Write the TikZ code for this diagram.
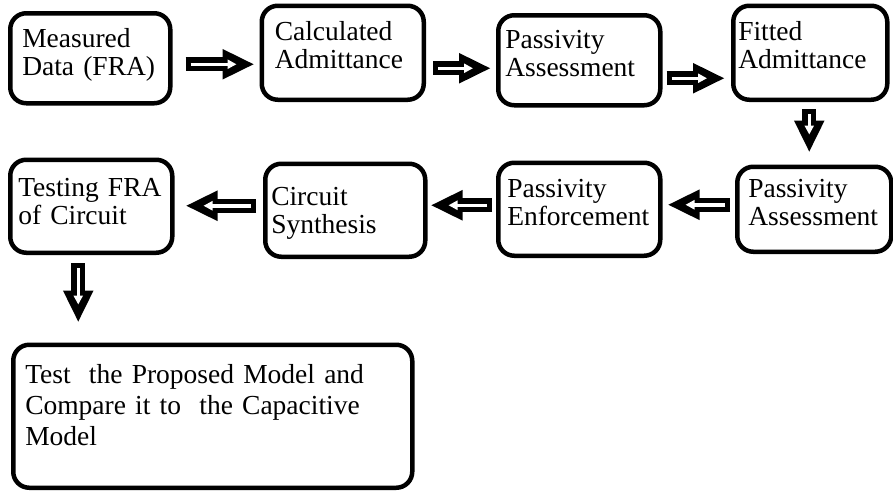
\documentclass[tikz,border=0pt]{standalone}
\usepackage{fontspec}
\setmainfont{Liberation Serif}
\usetikzlibrary{arrows.meta, positioning, calc}

\begin{document}
\begin{tikzpicture}[
    x=1pt, y=-1pt,
    stage/.style={rectangle, rounded corners=16pt, draw=black, line width=4.5pt, minimum width=160pt, minimum height=90pt, inner xsep=8pt, inner ysep=4pt, align=left, text width=144pt, text depth=40pt, font=\fontsize{27.5}{28}\selectfont},
    flow/.style={line width=14pt, -{Triangle[length=32pt,width=28pt]}, postaction={draw=white, line width=3.5pt, -{Triangle[length=9pt,width=9pt]}, shorten <=5pt, shorten >=18pt}}
]

\path[use as bounding box, fill=white] (0,0) rectangle (893,491);

% Top row
\node[stage, inner xsep=12pt, text width=136pt, anchor=north west] (meas) at (8,11) {Measured\\Data (FRA)};
\node[stage, minimum width=162pt, minimum height=94pt, inner xsep=13pt, text width=136pt, text depth=44pt, right=87pt of meas, yshift=5.5pt] (calc) {Calculated\\Admittance};
\node[stage, minimum width=162pt, inner xsep=7pt, text width=148pt, text depth=42pt, right=70pt of calc, yshift=-7.5pt] (passA) {Passivity\\Assessment};
\node[stage, minimum width=154pt, minimum height=94pt, inner xsep=5pt, text width=144pt, text depth=44pt, right=68.5pt of passA, yshift=7.5pt] (fitted) {Fitted\\Admittance};

% Second row
\node[stage, minimum width=154pt, minimum height=85pt, inner xsep=11pt, text width=132pt, text depth=42pt, below=62.5pt of fitted, xshift=4pt] (passB) {Passivity\\Assessment};
\node[stage, minimum width=162pt, minimum height=93pt, inner xsep=9pt, text depth=42pt, left=72.5pt of passB] (enforce) {Passivity\\Enforcement};
\node[stage, minimum height=93pt, inner xsep=6pt, text width=148pt, text depth=28pt, left=68.5pt of enforce, yshift=-1pt] (synth) {Circuit\\Synthesis};
\node[stage, minimum width=162pt, minimum height=93pt, text width=146pt, text depth=38pt, left=88.5pt of synth, yshift=4pt] (testing) {Testing FRA\\of Circuit};

% Final step
\node[stage, minimum width=399pt, minimum height=143pt, text width=375pt, inner xsep=12pt, text depth=84pt, font=\fontsize{27.5}{31}\selectfont, below=87.5pt of testing.south west, anchor=north west, xshift=3pt] (final) {Test\ \ the Proposed Model and\\Compare it to\ \ the Capacitive\\Model};

% Arrows
\draw[flow] ($(meas.east)+(13,6)$) -- ($(meas.east -| calc.west)+(-5,6)$);
\draw[flow] ($(calc.east)+(7,15.5)$) -- ($(calc.east -| passA.west)+(-5,15.5)$);
\draw[flow] ($(passA.east)+(4,18)$) -- ($(passA.east -| fitted.west)+(-6,18)$);
\draw[flow] ($(fitted.south)+(-1,7)$) -- ($(fitted.south |- passB.north)+(-1,-12)$);
\draw[flow] ($(passB.west)+(-5,-4.5)$) -- ($(passB.west -| enforce.east)+(5,-4.5)$);
\draw[flow] ($(enforce.west)+(-4,-4)$) -- ($(enforce.west -| synth.east)+(3,-4)$);
\draw[flow] ($(synth.west)+(-7,-4.5)$) -- ($(synth.west -| testing.east)+(11,-4.5)$);
\draw[flow] ($(testing.south)+(-13,8)$) -- ($(testing.south |- final.north)+(-13,-20)$);

\end{tikzpicture}
\end{document}
